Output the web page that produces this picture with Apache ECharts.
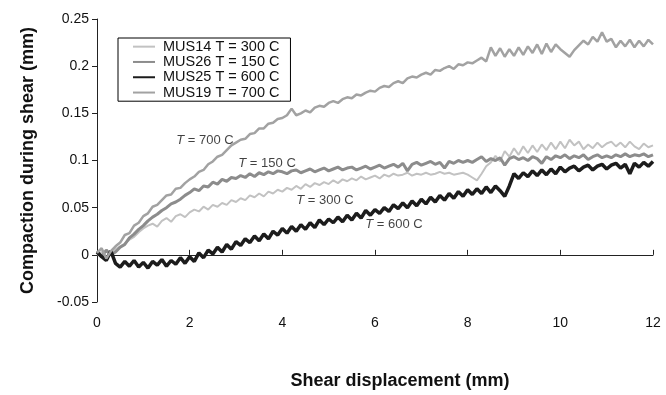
<!DOCTYPE html>
<html>
<head>
<meta charset="utf-8">
<script src="https://cdn.jsdelivr.net/npm/echarts@6/dist/echarts.min.js"></script>
<style>
  html, body { margin: 0; padding: 0; background: #fff; }
  #charts { width: 666px; height: 395px; }
</style>
</head>
<body>
<div id="charts"></div>
<script>
// shear displacement sample positions (mm), every 0.1 mm from 0 to 12
var disp = [];
for (var i = 0; i <= 120; i++) disp.push(+(i / 10).toFixed(1));

// compaction during shear (mm)
var mus14 = [ // T = 300 C
    0.000, 0.003, -0.003, 0.002, 0.006, 0.009, 0.012, 0.016, 0.019, 0.024,
    0.028, 0.031, 0.033, 0.030, 0.036, 0.039, 0.035, 0.041, 0.043, 0.040,
    0.045, 0.048, 0.046, 0.051, 0.048, 0.053, 0.051, 0.055, 0.053, 0.058,
    0.056, 0.060, 0.058, 0.063, 0.061, 0.065, 0.062, 0.067, 0.065, 0.069,
    0.067, 0.071, 0.069, 0.073, 0.070, 0.075, 0.072, 0.076, 0.074, 0.077,
    0.075, 0.079, 0.076, 0.080, 0.078, 0.081, 0.079, 0.083, 0.080, 0.082,
    0.084, 0.081, 0.085, 0.083, 0.086, 0.084, 0.085, 0.087, 0.084, 0.086,
    0.085, 0.087, 0.085, 0.086, 0.088, 0.086, 0.087, 0.085, 0.086, 0.087,
    0.085, 0.082, 0.079, 0.086, 0.094, 0.098, 0.105, 0.099, 0.110, 0.104,
    0.113, 0.106, 0.115, 0.108, 0.116, 0.109, 0.117, 0.111, 0.119, 0.112,
    0.120, 0.113, 0.122, 0.116, 0.120, 0.112, 0.117, 0.113, 0.119, 0.114,
    0.118, 0.120, 0.115, 0.119, 0.114, 0.120, 0.115, 0.112, 0.118, 0.114, 0.116
];
var mus26 = [ // T = 150 C
    0.004, -0.002, 0.005, 0.000, 0.003, 0.008, 0.011, 0.018, 0.022, 0.027,
    0.031, 0.036, 0.040, 0.043, 0.047, 0.050, 0.054, 0.056, 0.059, 0.063,
    0.066, 0.070, 0.068, 0.073, 0.072, 0.077, 0.075, 0.080, 0.078, 0.082,
    0.081, 0.084, 0.082, 0.086, 0.083, 0.087, 0.085, 0.088, 0.086, 0.089,
    0.088, 0.086, 0.089, 0.090, 0.087, 0.089, 0.091, 0.088, 0.090, 0.092,
    0.089, 0.091, 0.093, 0.090, 0.092, 0.093, 0.090, 0.092, 0.094, 0.091,
    0.093, 0.095, 0.092, 0.094, 0.096, 0.093, 0.097, 0.089, 0.096, 0.098,
    0.095, 0.097, 0.099, 0.096, 0.098, 0.092, 0.099, 0.097, 0.100, 0.098,
    0.100, 0.098, 0.101, 0.104, 0.099, 0.102, 0.100, 0.103, 0.095, 0.102,
    0.104, 0.101, 0.103, 0.100, 0.104, 0.102, 0.097, 0.104, 0.101, 0.105,
    0.103, 0.106, 0.102, 0.105, 0.103, 0.106, 0.101, 0.104, 0.106, 0.103,
    0.105, 0.103, 0.106, 0.104, 0.107, 0.104, 0.106, 0.105, 0.107, 0.104, 0.106
];
var mus25 = [ // T = 600 C
    0.003, -0.002, -0.006, 0.004, -0.009, -0.013, -0.007, -0.012, -0.006, -0.013,
    -0.008, -0.014, -0.007, -0.011, -0.005, -0.012, -0.006, -0.010, -0.003, -0.009,
    -0.002, -0.007, 0.002, -0.003, 0.005, 0.001, 0.008, 0.003, 0.011, 0.006,
    0.014, 0.010, 0.017, 0.013, 0.020, 0.015, 0.022, 0.017, 0.025, 0.021,
    0.028, 0.023, 0.030, 0.025, 0.032, 0.027, 0.034, 0.029, 0.037, 0.032,
    0.038, 0.034, 0.040, 0.035, 0.042, 0.037, 0.044, 0.039, 0.047, 0.042,
    0.048, 0.044, 0.050, 0.046, 0.053, 0.049, 0.055, 0.050, 0.057, 0.052,
    0.059, 0.054, 0.061, 0.056, 0.063, 0.058, 0.065, 0.060, 0.067, 0.062,
    0.069, 0.064, 0.070, 0.065, 0.072, 0.066, 0.073, 0.068, 0.062, 0.073,
    0.086, 0.081, 0.087, 0.083, 0.089, 0.084, 0.090, 0.085, 0.091, 0.086,
    0.093, 0.088, 0.092, 0.094, 0.089, 0.093, 0.095, 0.090, 0.094, 0.096,
    0.091, 0.095, 0.097, 0.092, 0.096, 0.086, 0.097, 0.093, 0.098, 0.094, 0.099
];
var mus19 = [ // T = 700 C
    0.002, 0.007, -0.004, 0.004, 0.009, 0.013, 0.021, 0.023, 0.031, 0.034,
    0.041, 0.044, 0.051, 0.053, 0.058, 0.063, 0.064, 0.070, 0.071, 0.076,
    0.080, 0.083, 0.088, 0.090, 0.096, 0.099, 0.104, 0.106, 0.111, 0.116,
    0.119, 0.122, 0.123, 0.128, 0.129, 0.134, 0.134, 0.139, 0.140, 0.144,
    0.145, 0.148, 0.155, 0.148, 0.150, 0.153, 0.151, 0.156, 0.158, 0.157,
    0.161, 0.163, 0.161, 0.165, 0.167, 0.166, 0.170, 0.169, 0.172, 0.174,
    0.173, 0.177, 0.179, 0.178, 0.182, 0.184, 0.182, 0.187, 0.189, 0.188,
    0.191, 0.193, 0.191, 0.196, 0.195, 0.198, 0.200, 0.197, 0.202, 0.201,
    0.204, 0.203, 0.206, 0.209, 0.205, 0.220, 0.211, 0.219, 0.210, 0.218,
    0.211, 0.220, 0.212, 0.221, 0.214, 0.223, 0.213, 0.224, 0.215, 0.223,
    0.218, 0.214, 0.210, 0.217, 0.222, 0.227, 0.223, 0.231, 0.226, 0.236,
    0.226, 0.229, 0.220, 0.227, 0.221, 0.228, 0.220, 0.227, 0.221, 0.228, 0.223
];

var names = ['MUS14 T = 300 C', 'MUS26 T = 150 C', 'MUS25 T = 600 C', 'MUS19 T = 700 C'];
var colors = ['#c2c2c2', '#8c8c8c', '#1c1c1c', '#a2a2a2'];
var widths = [2, 3, 3.5, 2.5];
var values = [mus14, mus26, mus25, mus19];

// in-plot labels: [shear displacement, compaction, temperature]
var tempLabels = [
    [2.33, 0.121, '700'],
    [3.67, 0.097, '150'],
    [4.92, 0.058, '300'],
    [6.41, 0.032, '600']
];

var font = 'Liberation Sans, Arial, sans-serif';

function pairs(ys) {
    var arr = [];
    ys.forEach((v, i) => {
        arr.push([disp[i], v]);
    })
    return arr;
}

var myChart = echarts.init(document.getElementById('charts'));

var series = [];
for (var k = 0; k < names.length; k++) {
    series.push({
        name: names[k],
        type: 'line',
        symbol: 'none',
        animation: false,
        color: colors[k],
        lineStyle: { color: colors[k], width: widths[k] },
        data: pairs(values[k])
    });
}
// text labels riding on the plot
series.push({
    type: 'scatter',
    silent: true,
    animation: false,
    symbolSize: 0,
    data: tempLabels.map(t => ({ value: [t[0], t[1]], name: t[2] })),
    label: {
        show: true,
        position: 'inside',
        fontFamily: font,
        fontSize: 13,
        color: '#111',
        formatter: p => '{i|T} = ' + p.name + ' C',
        rich: { i: { fontStyle: 'italic', fontFamily: font, fontSize: 13, color: '#111' } }
    }
});

var option = {
    backgroundColor: '#fff',
    animation: false,
    grid: { left: 97, right: 13, top: 19, bottom: 33 },
    legend: {
        data: names,
        orient: 'vertical',
        left: 118,
        top: 38,
        padding: [1, 11, 1, 15],
        itemGap: 0,
        itemWidth: 22,
        itemHeight: 2,
        borderColor: '#000',
        borderWidth: 1,
        borderRadius: 0,
        icon: 'rect',
        itemStyle: { borderWidth: 0 },
        textStyle: { fontFamily: font, fontSize: 14.5, lineHeight: 15.3, color: '#111', padding: [0, 0, 0, 3] },
        selectedMode: false
    },
    xAxis: {
        type: 'value',
        min: 0,
        max: 12,
        interval: 2,
        name: 'Shear displacement (mm)',
        nameLocation: 'middle',
        nameGap: 70,
        nameTextStyle: { fontFamily: font, fontSize: 18, fontWeight: 'bold', color: '#111', padding: [0, 0, 0, 50] },
        axisLine: { onZero: true, lineStyle: { color: '#222', width: 1 } },
        axisTick: { inside: true, length: 5, lineStyle: { color: '#222' } },
        axisLabel: { margin: 14, fontFamily: font, fontSize: 14, color: '#111' },
        splitLine: { show: false }
    },
    yAxis: {
        type: 'value',
        min: -0.05,
        max: 0.25,
        interval: 0.05,
        name: 'Compaction during shear (mm)',
        nameLocation: 'middle',
        nameGap: 60,
        nameTextStyle: { fontFamily: font, fontSize: 18, fontWeight: 'bold', color: '#111' },
        axisLine: { show: true, onZero: false, lineStyle: { color: '#222', width: 1 } },
        axisTick: { show: true, length: 5, lineStyle: { color: '#222' } },
        axisLabel: { margin: 8, fontFamily: font, fontSize: 14, color: '#111' },
        splitLine: { show: false }
    },
    series: series
};

myChart.setOption(option);
</script>
</body>
</html>
